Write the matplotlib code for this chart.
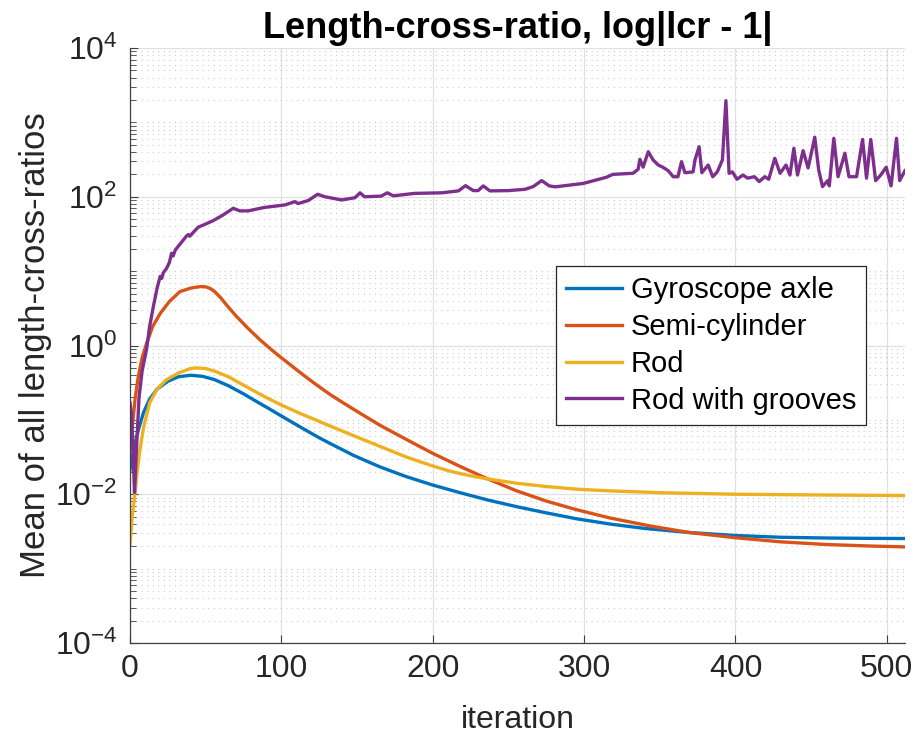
# ///---- plot.py ----///
# Length-cross-ratio: mean of |lcr - 1| per iteration, log scale

# ///---- Imports ----///
import numpy as np
import matplotlib
matplotlib.use('Agg')
import matplotlib.pyplot as plt
from matplotlib.ticker import LogLocator, NullFormatter


# ///---- Datos ----///
labels = ['Gyroscope axle', 'Semi-cylinder', 'Rod', 'Rod with grooves']

gyro_x = [0, 2, 4, 6, 9, 13, 18, 25, 32, 40, 48, 56, 65, 75, 85, 92, 99,
          112, 125, 132, 148, 165, 182, 200, 218, 236, 255, 275, 295, 317,
          340, 370, 400, 430, 460, 490, 512]
gyro_y = [0.021, 0.036, 0.055, 0.079, 0.126, 0.19, 0.26, 0.33, 0.38, 0.398,
          0.385, 0.347, 0.288, 0.224, 0.170, 0.141, 0.116, 0.0813, 0.0575,
          0.0484, 0.0331, 0.0234, 0.0174, 0.0133, 0.0105, 0.0084, 0.00684,
          0.00562, 0.00468, 0.00398, 0.00347, 0.00305, 0.00279, 0.00264,
          0.00258, 0.00255, 0.00254]

semi_x = [0, 2, 3.5, 5.5, 8, 11, 15, 20, 26, 33, 40, 44, 47, 50, 53, 56, 60,
          64, 70, 78, 86, 92, 99, 106, 112, 118, 125, 132, 140, 150, 165,
          183, 200, 218, 236, 255, 275, 295, 317, 345, 370, 400, 430, 460,
          490, 512]
semi_y = [0.04, 0.10, 0.2, 0.38, 0.68, 1.07, 1.8, 2.7, 3.9, 5.3, 5.9, 6.1,
          6.2, 6.15, 5.85, 5.3, 4.37, 3.47, 2.51, 1.70, 1.19, 0.93, 0.71,
          0.55, 0.44, 0.355, 0.279, 0.221, 0.174, 0.130, 0.085, 0.054,
          0.0355, 0.0237, 0.0162, 0.0112, 0.0081, 0.0062, 0.0048, 0.0037,
          0.00305, 0.0026, 0.00229, 0.00211, 0.00201, 0.00196]

rod_x = [0, 1.5, 3.3, 5, 6.6, 9, 13, 18, 24, 32, 40, 44, 50, 56, 65, 73, 81,
         90, 99, 112, 125, 132, 148, 165, 182, 192, 200, 210, 218, 227, 236,
         255, 275, 295, 317, 350, 400, 450, 512]
rod_y = [0.0021, 0.005, 0.0105, 0.022, 0.04, 0.079, 0.17, 0.26, 0.345, 0.427,
         0.49, 0.50, 0.49, 0.452, 0.38, 0.309, 0.251, 0.20, 0.162, 0.123,
         0.0955, 0.083, 0.061, 0.0442, 0.032, 0.0272, 0.0240, 0.0208, 0.0190,
         0.0174, 0.0161, 0.0141, 0.0127, 0.0117, 0.0111, 0.0105, 0.0100,
         0.0098, 0.0096]

groove_x = [0, 1, 2, 3, 4, 6, 8, 11, 13, 15.4, 18, 20, 21, 22, 24.2, 26,
            27.5, 28.5, 30, 33, 37.4, 38.5, 39.5, 45, 50, 55, 61.6, 68.2,
            72.6, 78, 89, 102.4, 109, 111, 117.8, 124, 128.8, 139.8, 148.6,
            152, 155, 166, 170, 174, 188, 206, 217, 221.7, 226.8, 230, 233.4,
            237.8, 250, 261, 266.4, 272, 277, 281, 299.4, 314.8, 319, 332.4,
            335.7, 336.9, 339, 342.4, 345.6, 349, 352, 355.6, 358.9, 362,
            364.4, 366.6, 372, 373.3, 376, 377.8, 382, 385, 388, 391.4, 393.7,
            395.8, 398, 401, 405, 408, 412.6, 415.7, 419.4, 422, 426, 429.5,
            433.4, 436, 438.6, 441, 444.7, 448, 452.4, 455, 457.5, 461, 462,
            465, 467.8, 472.3, 475, 480, 484, 486.6, 489.4, 492.6, 496, 499.6,
            502.8, 506.4, 508.5, 512]
groove_y = [0.17, 0.12, 0.04, 0.0105, 0.03, 0.2, 0.45, 0.9, 1.8, 3.3, 6.0,
            8.5, 8.0, 9.5, 10.9, 13, 17.4, 16, 19.3, 23, 29.7, 31, 29.5, 38.9,
            43, 47.8, 57, 70, 64.6, 64.6, 72, 77.6, 86, 81, 89, 108, 100, 90.6,
            97, 113, 100, 102, 113, 103, 111, 113, 120, 141, 121, 121, 140,
            120, 121, 126, 137, 165, 140, 136, 151, 183, 200, 207, 234, 319,
            250, 403, 313, 267, 250, 224, 186, 186, 297, 211, 216, 313, 471,
            211, 267, 186, 216, 313, 1960, 207, 216, 172, 196, 178, 186, 160,
            186, 172, 329, 207, 267, 196, 449, 196, 417, 244, 632, 230, 137,
            165, 140, 611, 186, 385, 186, 186, 590, 178, 590, 165, 196, 250,
            140, 611, 165, 224]

colores = ['#0072BD', '#D95319', '#EDB120', '#7E2F8E']


# ///---- main ----///
def main():
    plt.rcParams['font.family'] = ['Liberation Sans', 'DejaVu Sans']
    texto = '#262626'

    fig = plt.figure(figsize=(9.21, 7.40), dpi=100)
    ax = fig.add_axes([0.1411, 0.1311, 0.8415, 0.804])

    series = [(gyro_x, gyro_y), (semi_x, semi_y), (rod_x, rod_y),
              (groove_x, groove_y)]
    for (xs, ys), lab, col in zip(series, labels, colores):
        ax.plot(xs, ys, color=col, lw=2.4, label=lab, solid_joinstyle='round')

    ax.set_yscale('log')
    ax.set_xlim(0, 512)
    ax.set_ylim(1e-4, 1e4)
    ax.set_xticks([0, 100, 200, 300, 400, 500])
    ax.set_yticks([1e-4, 1e-2, 1e0, 1e2, 1e4])
    ax.yaxis.set_minor_locator(LogLocator(base=10, subs=np.arange(1, 10),
                                          numticks=30))
    ax.yaxis.set_minor_formatter(NullFormatter())

    # grilla estilo MATLAB
    ax.grid(True, which='major', color='#e0e0e0', lw=0.9, ls='-')
    ax.yaxis.grid(True, which='minor', color='#cccccc', lw=0.8,
                  ls=(0, (1, 4)))
    ax.set_axisbelow(True)

    for s in ['top', 'right']:
        ax.spines[s].set_visible(False)
    for s in ['left', 'bottom']:
        ax.spines[s].set_color('#404040')
        ax.spines[s].set_linewidth(0.9)

    ax.tick_params(axis='both', which='both', direction='in',
                   colors='#404040', labelcolor=texto, labelsize=23)
    ax.tick_params(axis='both', which='major', length=6, width=0.8)
    ax.tick_params(axis='y', which='minor', length=4, width=0.6)
    ax.tick_params(axis='x', pad=8)
    ax.tick_params(axis='y', pad=9)

    ax.set_xlabel('iteration', fontsize=23, color=texto, labelpad=15)
    ax.set_ylabel('Mean of all length-cross-ratios', fontsize=25,
                  color=texto, labelpad=2)
    ax.set_title('Length-cross-ratio, log|lcr - 1|', fontsize=26,
                 fontweight='bold', color='black', pad=7)

    leg = ax.legend(loc='center right', bbox_to_anchor=(0.95, 0.5),
                    fontsize=21, frameon=True, fancybox=False,
                    framealpha=1, edgecolor='#262626', handlelength=1.9,
                    handletextpad=0.3, labelspacing=0.3, borderpad=0.35,
                    borderaxespad=0)
    leg.get_frame().set_linewidth(0.9)

    fig.savefig('out.png', dpi=100)


# ///---- sys ----///
if __name__ == '__main__':
    main()
